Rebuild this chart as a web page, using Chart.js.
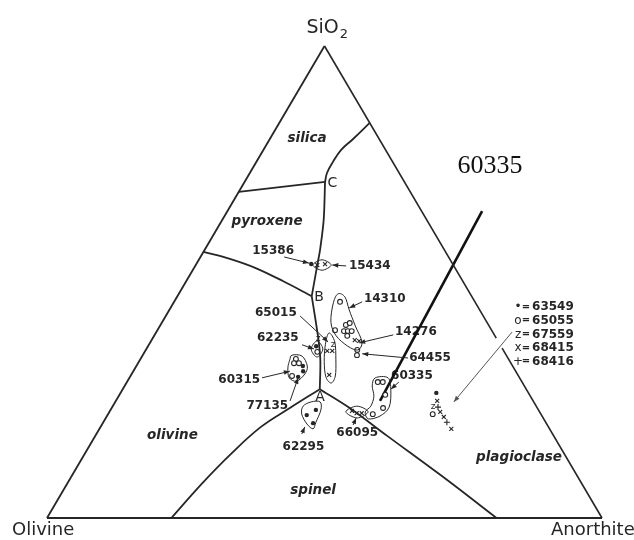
<!DOCTYPE html>
<html>
<head>
<meta charset="utf-8">
<script src="https://cdn.jsdelivr.net/npm/chart.js@4.4.1/dist/chart.umd.min.js"></script>
<style>
  body { margin: 0; background: #fff; }
  canvas { display: block; }
</style>
</head>
<body>
<canvas id="diagram" width="634" height="540"></canvas>
<script>
// every point is [anorthite %, SiO2 %]; olivine is what is left to 100
const vertexNames = ['Olivine', 'Anorthite', 'SiO'];

// sides of the triangle (right side is broken where the legend arrow passes)
const sideBase = [[0, 0], [100, 0]];
const sideLeft = [[0, 0], [0, 100]];
const sideRightUpper = [[0, 100], [61.9, 38.1]];
const sideRightLower = [[64.0, 36.0], [100, 0]];

// field boundaries
const silicaPyroxene = [[0, 69.1], [14.5, 71.2]];
const silicaPlagioclase = [[14.5, 71.2], [13.9, 73.1], [13.8, 75.4], [14.0, 78.0], [15.0, 80.3], [16.3, 83.7]];
const pyroxenePlagioclase = [[14.5, 71.2], [18.3, 63.1], [20.8, 56.8], [21.7, 54.2], [24.2, 47.0]];
const olivinePyroxene = [[0, 56.4], [5.5, 54.9], [11.0, 53.0], [17.4, 50.2], [24.2, 47.0]];
const olivinePlagioclase = [[24.2, 47.0], [29.7, 38.3], [32.5, 33.5], [35.5, 27.3]];
const olivineSpinel = [[35.5, 27.3], [32.1, 23.3], [28.9, 19.3], [26.4, 13.7], [24.3, 7.4], [22.4, 0]];
const spinelPlagioclase = [[35.5, 27.3], [42.9, 23.3], [52.6, 17.4], [68.0, 8.1], [81.0, 0]];

const fieldNames = ['silica', 'pyroxene', 'olivine', 'spinel', 'plagioclase'];
const fieldLabelAt = [[6.6, 80.5], [8.2, 62.9], [13.9, 17.4], [45.0, 5.9], [78.6, 12.9]];
const invariantNames = ['A', 'B', 'C'];
const invariantLabelAt = [[36.4, 25.6], [25.6, 46.8], [15.9, 71.0]];

// analysed samples
const dots = [[20.7, 53.8], [30.3, 36.4], [35.9, 21.8], [37.0, 22.9], [37.9, 20.1], [56.9, 26.5], [30.0, 32.2], [30.6, 31.1], [30.3, 29.9]];
const rings = [[29.9, 45.8], [33.4, 40.9], [33.9, 41.3], [33.7, 39.6], [34.4, 39.6], [35.1, 39.6], [34.8, 38.6], [32.0, 39.8],
  [31.1, 35.2], [38.1, 35.6], [38.6, 34.5], [28.0, 33.7], [28.1, 32.8], [29.0, 32.8], [29.1, 30.1],
  [45.2, 28.8], [46.1, 28.8], [47.9, 26.1], [48.9, 23.3], [47.7, 22.0], [58.5, 22.0]];
const crosses = [[21.9, 53.6], [23.2, 53.8], [32.8, 35.4], [33.7, 35.4], [35.7, 30.3], [36.6, 37.7], [37.5, 37.5],
  [43.6, 22.7], [44.7, 22.2], [45.6, 22.2], [59.6, 22.5], [60.8, 21.4], [63.4, 18.9], [57.9, 24.8]];
const pluses = [[58.7, 23.5], [61.9, 20.3]];
const zees = [[57.8, 23.5], [29.8, 38.1], [33.2, 36.7]];

// outlines drawn round groups of analyses
const groupLoops = [
  [[21.1, 53.6], [22.2, 54.7], [24.4, 53.6], [23.3, 52.5]],
  [[29.7, 35.8], [29.9, 37.5], [31.8, 35.8], [31.6, 34.1]],
  [[31.2, 39.2], [31.8, 36.7], [33.4, 33.1], [35.3, 29.9], [36.9, 28.6], [36.9, 30.1], [35.3, 33.5], [33.2, 37.3]],
  [[28.7, 47.5], [30.3, 46.8], [32.4, 44.1], [35.2, 40.7], [38.1, 37.3], [38.2, 35.6], [36.0, 36.4], [32.8, 38.6], [30.4, 41.5], [28.8, 45.6]],
  [[26.9, 34.5], [28.8, 34.3], [30.8, 32.2], [31.2, 30.5], [30.5, 29.0], [28.8, 29.7], [27.5, 31.8], [27.0, 33.5]],
  [[34.3, 23.7], [35.3, 24.6], [36.9, 24.6], [37.9, 22.9], [38.3, 20.3], [38.5, 18.9], [36.9, 19.9], [34.9, 22.0]],
  [[42.6, 22.5], [44.0, 23.7], [46.6, 22.5], [45.3, 21.2]],
  [[44.3, 29.7], [46.6, 29.7], [48.4, 27.1], [49.9, 23.5], [49.2, 21.6], [47.4, 21.0], [46.1, 22.5], [46.5, 23.7], [46.0, 25.8], [44.6, 28.0]]
];

const sampleNames = ['15386', '15434', '14310', '65015', '62235', '14276', '64455', '60315', '77135', '62295', '66095', '60335'];
const sampleLabelAt = [[16.2, 56.6], [27.7, 53.4], [33.9, 46.4], [23.3, 43.4], [26.3, 38.1], [43.0, 39.4],
  [48.3, 33.9], [23.8, 29.2], [31.6, 23.7], [38.7, 15.0], [46.9, 18.0], [50.7, 30.1]];
const sampleAlign = ['right', 'left', 'left', 'right', 'right', 'left', 'left', 'right', 'right', 'center', 'center', 'center'];
const sampleArrows = [
  [[15.1, 55.3], [20.2, 54.0]], [[27.2, 53.4], [24.6, 53.6]], [[33.9, 45.8], [32.2, 44.5]], [[24.2, 42.8], [32.0, 37.3]],
  [[27.6, 36.7], [30.2, 35.8]], [[43.0, 38.8], [37.7, 37.1]], [[48.1, 33.9], [39.4, 34.8]], [[23.9, 29.7], [28.2, 31.1]],
  [[31.4, 24.8], [30.4, 29.7]], [[37.0, 17.8], [36.8, 19.3]], [[45.3, 19.7], [45.1, 21.2]], [[49.0, 28.8], [48.3, 27.3]]
];

// key for the scatter on the right
const legendSymbols = ['•', 'o', 'z', 'x', '+'];
const legendSamples = ['63549', '65055', '67559', '68415', '68416'];
const legendAt = [61.8, 44.7];
const legendArrow = [[64.1, 39.4], [61.0, 24.6]];

// the added pointer to sample 60335
const highlightName = '60335';
const highlightLabelAt = [42.5, 74.6];
const highlightLine = [[45.9, 65.0], [47.6, 24.8]];

const ink = '#262626';
const toPlot = p => ({ x: p[0] + p[1] / 2, y: p[1] });

function lineSet(points, width, tension, color) {
  return {
    data: points.map(toPlot), showLine: true, borderColor: color || ink, borderWidth: width,
    pointRadius: 0, tension: tension || 0, fill: false, clip: false
  };
}

function symbolSet(points, style, radius, filled) {
  return {
    data: points.map(toPlot), pointStyle: style, pointRadius: radius,
    backgroundColor: filled ? ink : '#fff', borderColor: ink, borderWidth: filled ? 0 : 1.1, clip: false
  };
}

const datasets = [
  lineSet(sideBase, 1.8), lineSet(sideLeft, 1.8), lineSet(sideRightUpper, 1.6), lineSet(sideRightLower, 1.6),
  lineSet(silicaPyroxene, 1.8), lineSet(silicaPlagioclase, 1.8, 0.4), lineSet(pyroxenePlagioclase, 1.8, 0.3),
  lineSet(olivinePyroxene, 1.8, 0.35), lineSet(olivinePlagioclase, 1.8, 0.3), lineSet(olivineSpinel, 1.8, 0.4),
  lineSet(spinelPlagioclase, 1.8, 0.3)
];
sampleArrows.forEach(a => datasets.push(lineSet(a, 1)));
datasets.push(lineSet(legendArrow, 1, 0, '#555'));
datasets.push(symbolSet(rings, 'circle', 2.4, false));
datasets.push(symbolSet(dots, 'circle', 2.2, true));
datasets.push(symbolSet(crosses, 'crossRot', 2.8, false));
datasets.push(symbolSet(pluses, 'cross', 3, false));
datasets.push(lineSet(highlightLine, 2.6, 0, '#111'));

function closedCurve(ctx, pts) {
  const n = pts.length;
  ctx.beginPath();
  ctx.moveTo(pts[0][0], pts[0][1]);
  for (let i = 0; i < n; i++) {
    const p0 = pts[(i - 1 + n) % n], p1 = pts[i], p2 = pts[(i + 1) % n], p3 = pts[(i + 2) % n];
    ctx.bezierCurveTo(p1[0] + (p2[0] - p0[0]) / 6, p1[1] + (p2[1] - p0[1]) / 6,
      p2[0] - (p3[0] - p1[0]) / 6, p2[1] - (p3[1] - p1[1]) / 6, p2[0], p2[1]);
  }
  ctx.closePath();
  ctx.stroke();
}

function arrowHead(ctx, from, to, color) {
  const a = Math.atan2(to[1] - from[1], to[0] - from[0]);
  const len = 6, half = 2.3;
  ctx.fillStyle = color;
  ctx.beginPath();
  ctx.moveTo(to[0], to[1]);
  ctx.lineTo(to[0] - len * Math.cos(a) + half * Math.sin(a), to[1] - len * Math.sin(a) - half * Math.cos(a));
  ctx.lineTo(to[0] - len * Math.cos(a) - half * Math.sin(a), to[1] - len * Math.sin(a) + half * Math.cos(a));
  ctx.closePath();
  ctx.fill();
}

const ternaryLabels = {
  id: 'ternaryLabels',
  beforeDatasetsDraw(chart) {
    const { ctx, scales: { x, y } } = chart;
    const px = p => [x.getPixelForValue(p[0] + p[1] / 2), y.getPixelForValue(p[1])];
    ctx.save();
    ctx.fillStyle = ink;

    // corner names
    const olv = px([0, 0]), an = px([100, 0]), si = px([0, 100]);
    ctx.font = '18px "DejaVu Sans"';
    ctx.textBaseline = 'middle';
    ctx.textAlign = 'left';
    ctx.fillText(vertexNames[0], olv[0] - 35, olv[1] + 12);
    ctx.fillText(vertexNames[1], an[0] - 51, an[1] + 12);
    ctx.font = '19px "DejaVu Sans"';
    ctx.textBaseline = 'alphabetic';
    const w = ctx.measureText(vertexNames[2]).width;
    ctx.fillText(vertexNames[2], si[0] - 18, si[1] - 13);
    ctx.font = '13px "DejaVu Sans"';
    ctx.fillText('2', si[0] - 18 + w + 1, si[1] - 8);

    // field names
    ctx.font = 'italic bold 13.5px "DejaVu Sans"';
    ctx.textAlign = 'center';
    ctx.textBaseline = 'middle';
    fieldNames.forEach((t, i) => { const p = px(fieldLabelAt[i]); ctx.fillText(t, p[0], p[1]); });

    ctx.font = '14px "DejaVu Sans"';
    invariantNames.forEach((t, i) => { const p = px(invariantLabelAt[i]); ctx.fillText(t, p[0], p[1]); });

    // sample numbers
    ctx.font = 'bold 12px "DejaVu Sans"';
    sampleNames.forEach((t, i) => {
      const p = px(sampleLabelAt[i]);
      ctx.textAlign = sampleAlign[i];
      ctx.fillText(t, p[0], p[1]);
    });

    // key
    const k = px(legendAt);
    legendSymbols.forEach((s, i) => {
      const yy = k[1] + i * 13.7;
      ctx.textAlign = 'center';
      ctx.font = '12px "DejaVu Sans"';
      ctx.fillText(s, k[0] + 4, yy);
      ctx.font = 'bold 10px "DejaVu Sans"';
      ctx.fillText('=', k[0] + 12, yy);
      ctx.textAlign = 'left';
      ctx.font = 'bold 12px "DejaVu Sans"';
      ctx.fillText(legendSamples[i], k[0] + 18, yy);
    });

    // big pointer label
    ctx.font = '26px "Liberation Serif"';
    ctx.textAlign = 'center';
    ctx.fillStyle = '#111';
    const h = px(highlightLabelAt);
    ctx.fillText(highlightName, h[0], h[1]);
    ctx.restore();
  },
  afterDatasetsDraw(chart) {
    const { ctx, scales: { x, y } } = chart;
    const px = p => [x.getPixelForValue(p[0] + p[1] / 2), y.getPixelForValue(p[1])];
    ctx.save();
    ctx.strokeStyle = ink;
    ctx.lineWidth = 1;
    groupLoops.forEach(loop => closedCurve(ctx, loop.map(px)));
    sampleArrows.forEach(a => arrowHead(ctx, px(a[0]), px(a[1]), ink));
    arrowHead(ctx, px(legendArrow[0]), px(legendArrow[1]), '#555');
    ctx.fillStyle = ink;
    ctx.font = '9px "DejaVu Sans"';
    ctx.textAlign = 'center';
    ctx.textBaseline = 'middle';
    zees.forEach(z => { const p = px(z); ctx.fillText('z', p[0], p[1]); });
    ctx.restore();
  }
};

new Chart(document.getElementById('diagram'), {
  type: 'scatter',
  data: { datasets },
  options: {
    responsive: false,
    animation: false,
    devicePixelRatio: 1,
    events: [],
    layout: { padding: { left: 47, right: 32, top: 46, bottom: 22 } },
    scales: {
      x: { type: 'linear', min: 0, max: 100, display: false },
      y: { type: 'linear', min: 0, max: 100, display: false }
    },
    plugins: { legend: { display: false }, tooltip: { enabled: false } }
  },
  plugins: [ternaryLabels]
});
</script>
</body>
</html>
